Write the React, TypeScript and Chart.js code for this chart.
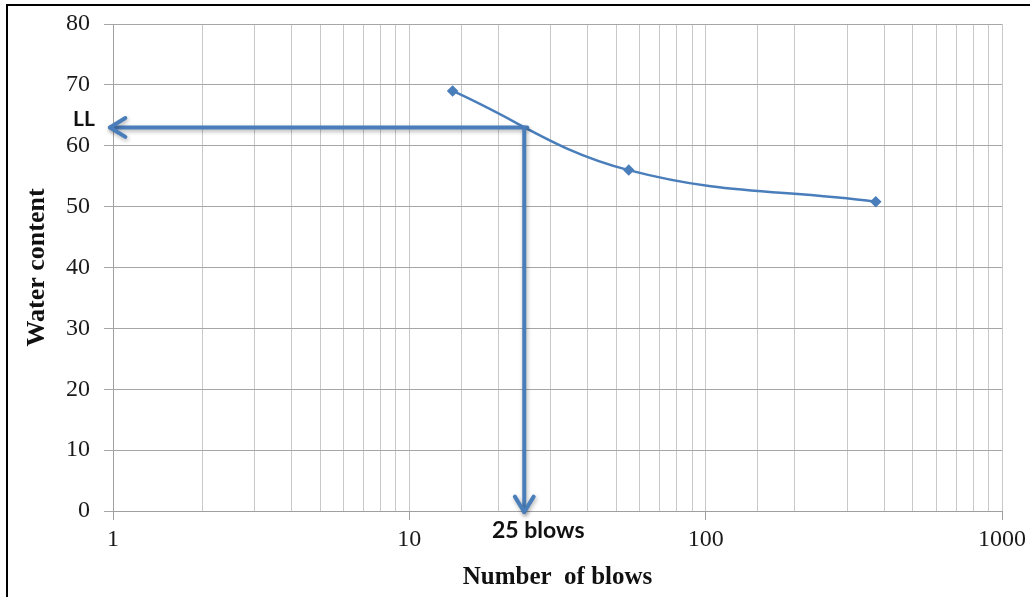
import React, { useEffect, useRef } from "react";
import { Chart, registerables } from "chart.js";

Chart.register(...registerables);

// Flow-curve test results
const blows = [14, 55, 375];
const waterContent = [69, 56, 50.8];

// Liquid limit at 25 blows
const llBlows = 25;
const llWater = 63;

const xRange = [1, 1000];
const yRange = [0, 80];
const yStep = 10;

const lineColor = "#4a7ebb";

const isDecade = (v: number) => {
  const l = Math.log10(v);
  return Math.abs(l - Math.round(l)) < 1e-9;
};

function drawArrow(ctx: CanvasRenderingContext2D, x1: number, y1: number, x2: number, y2: number) {
  const a = Math.atan2(y2 - y1, x2 - x1);
  const len = 18;
  const spread = 0.55;
  ctx.beginPath();
  ctx.moveTo(x1, y1);
  ctx.lineTo(x2, y2);
  ctx.stroke();
  ctx.beginPath();
  ctx.moveTo(x2 - len * Math.cos(a - spread), y2 - len * Math.sin(a - spread));
  ctx.lineTo(x2, y2);
  ctx.lineTo(x2 - len * Math.cos(a + spread), y2 - len * Math.sin(a + spread));
  ctx.stroke();
}

const annotations = {
  id: "llAnnotations",
  afterDatasetsDraw(chart: any) {
    const { ctx, scales } = chart;
    const xs = scales.x;
    const ys = scales.y;
    const px = xs.getPixelForValue(llBlows);
    const py = ys.getPixelForValue(llWater);
    const left = xs.getPixelForValue(xRange[0]);
    const bottom = ys.getPixelForValue(yRange[0]);

    ctx.save();
    ctx.strokeStyle = lineColor;
    ctx.lineWidth = 4;
    ctx.lineCap = "round";
    ctx.lineJoin = "round";
    ctx.shadowColor = "rgba(0,0,0,0.3)";
    ctx.shadowBlur = 4;
    ctx.shadowOffsetX = 1;
    ctx.shadowOffsetY = 2;
    drawArrow(ctx, px, py, left - 3, py);
    drawArrow(ctx, px - 3, py, px - 3, bottom + 1);
    ctx.restore();

    ctx.save();
    ctx.fillStyle = "#111";
    ctx.textAlign = "center";
    ctx.textBaseline = "middle";
    ctx.font = "bold 21px Lato";
    ctx.fillText("LL", left - 29, py - 8);
    ctx.font = "bold 23px Lato";
    ctx.fillText("25 blows", px + 11, bottom + 20);
    ctx.restore();
  },
  afterDraw(chart: any) {
    const { ctx } = chart;
    ctx.save();
    ctx.strokeStyle = "#000";
    ctx.lineWidth = 2;
    ctx.beginPath();
    ctx.moveTo(7, 700);
    ctx.lineTo(7, 5);
    ctx.lineTo(1100, 5);
    ctx.stroke();
    ctx.restore();
  },
};

export default function App() {
  const ref = useRef<HTMLCanvasElement>(null);

  useEffect(() => {
    if (!ref.current) return;
    const chart = new Chart(ref.current, {
      type: "line",
      data: {
        datasets: [
          {
            data: blows.map((b, i) => ({ x: b, y: waterContent[i] })),
            borderColor: lineColor,
            backgroundColor: lineColor,
            borderWidth: 2.5,
            tension: 0.4,
            pointStyle: "rectRot",
            pointRadius: 4,
            pointHoverRadius: 4,
            fill: false,
          },
        ],
      },
      options: {
        animation: false,
        responsive: true,
        maintainAspectRatio: false,
        layout: { padding: { top: 24, right: 28, left: 0, bottom: 0 } },
        plugins: { legend: { display: false }, tooltip: { enabled: false } },
        scales: {
          x: {
            type: "logarithmic",
            min: xRange[0],
            max: xRange[1],
            afterFit: (s: any) => {
              s.height = 86;
              s.paddingLeft = 0;
              s.paddingRight = 0;
            },
            grid: {
              color: "#c8c8c8",
              lineWidth: 1,
              tickLength: 9,
              tickColor: (c: any) => (c.tick && isDecade(c.tick.value) ? "#a0a0a0" : "rgba(0,0,0,0)"),
            },
            border: { color: "#a0a0a0" },
            ticks: {
              autoSkip: false,
              maxRotation: 0,
              padding: 5,
              color: "#1a1a1a",
              font: { family: "'Liberation Serif', serif", size: 24 },
              callback: (v: any) => (isDecade(Number(v)) ? String(Number(v)) : ""),
            },
            title: {
              display: true,
              text: "Number  of blows",
              color: "#111",
              font: { family: "'Liberation Serif', serif", size: 25, weight: "bold" },
              padding: { top: 0, bottom: 4 },
            },
          },
          y: {
            min: yRange[0],
            max: yRange[1],
            afterFit: (s: any) => {
              s.width = 113;
              s.paddingTop = 0;
              s.paddingBottom = 0;
            },
            grid: { color: "#a6a6a6", lineWidth: 1, tickLength: 9 },
            border: { color: "#a0a0a0" },
            ticks: {
              stepSize: yStep,
              padding: 14,
              color: "#1a1a1a",
              font: { family: "'Liberation Serif', serif", size: 24 },
            },
            title: {
              display: true,
              text: "Water content",
              color: "#111",
              font: { family: "'Liberation Serif', serif", size: 26, weight: "bold" },
              padding: { top: 22, bottom: 0 },
            },
          },
        },
      },
      plugins: [annotations],
    });
    return () => chart.destroy();
  }, []);

  return (
    <div style={{ position: "fixed", left: 0, top: 0, width: 1030, height: 597, background: "#fff" }}>
      <canvas ref={ref} />
    </div>
  );
}
